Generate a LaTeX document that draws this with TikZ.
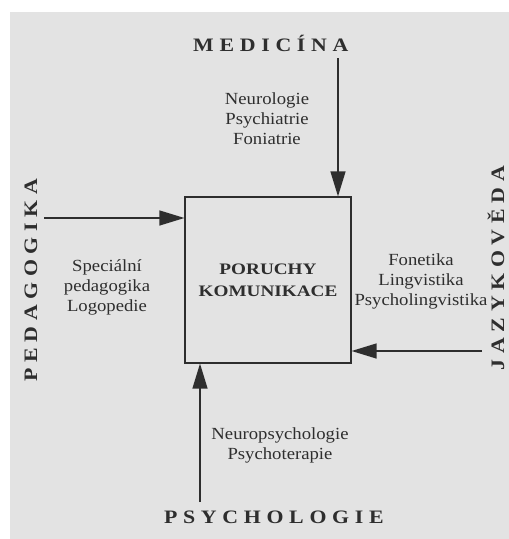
\documentclass[tikz,border=0pt]{standalone}
\usepackage{fontspec}
\setmainfont{Liberation Serif}[FakeStretch=1.1]
\newfontfamily\headfont{Liberation Serif}[LetterSpace=30,FakeStretch=1.15]
\newfontfamily\boxfont{Liberation Serif}[FakeStretch=1.2]
\usetikzlibrary{arrows.meta}
\definecolor{paper}{HTML}{E3E3E3}
\definecolor{ink}{HTML}{2E2E2E}
\begin{document}
\begin{tikzpicture}[x=1pt,y=-1pt,
    head/.style={text=ink,inner sep=0pt,font=\headfont\bfseries\fontsize{19}{20}\selectfont},
    field/.style={text=ink,align=center,font=\fontsize{17}{20}\selectfont},
    arr/.style={draw=ink,line width=1.3pt,-{Triangle[length=25pt,width=15pt]}}]
  \useasboundingbox (0,0) rectangle (509,539);
  \fill[paper] (10,12) rectangle (509,539);

  \node[draw=ink,line width=1.2pt,minimum size=166pt,inner sep=0pt,text=ink,align=center,
    font=\boxfont\bfseries\fontsize{16}{22}\selectfont] (PK) at (268,280){PORUCHY\\KOMUNIKACE};

  \node[head] (M) at (268,43){MEDIC\'INA\kern-5.7pt};
  \node[head] (PS) at (271,517){PSYCHOLOGIE\kern-5.7pt};
  \node[head,rotate=90] (PD) at (31,283){PEDAGOGIKA\kern-5.7pt};
  \node[head,rotate=90] (J) at (496,271){JAZYKOV\v{E}DA\kern-5.7pt};

  \coordinate (m0) at (338,58);
  \coordinate (p0) at (44,218);
  \coordinate (j0) at (482,351);
  \coordinate (s0) at (200,502);

  \draw[arr] (m0) -- (m0 |- PK.north);
  \draw[arr] (p0) -- (p0 -| PK.west);
  \draw[arr] (j0) -- (j0 -| PK.east);
  \draw[arr] (s0) -- (s0 |- PK.south);

  \node[field] (MF) at (267,119){Neurologie\\Psychiatrie\\Foniatrie};
  \node[field] (PDF) at (107,287){Speciální\\pedagogika\\Logopedie};
  \node[field] (JF) at (421,281){Fonetika\\Lingvistika\\Psycholingvistika};
  \node[field] (PSF) at (280,445){Neuropsychologie\\Psychoterapie};
\end{tikzpicture}
\end{document}
